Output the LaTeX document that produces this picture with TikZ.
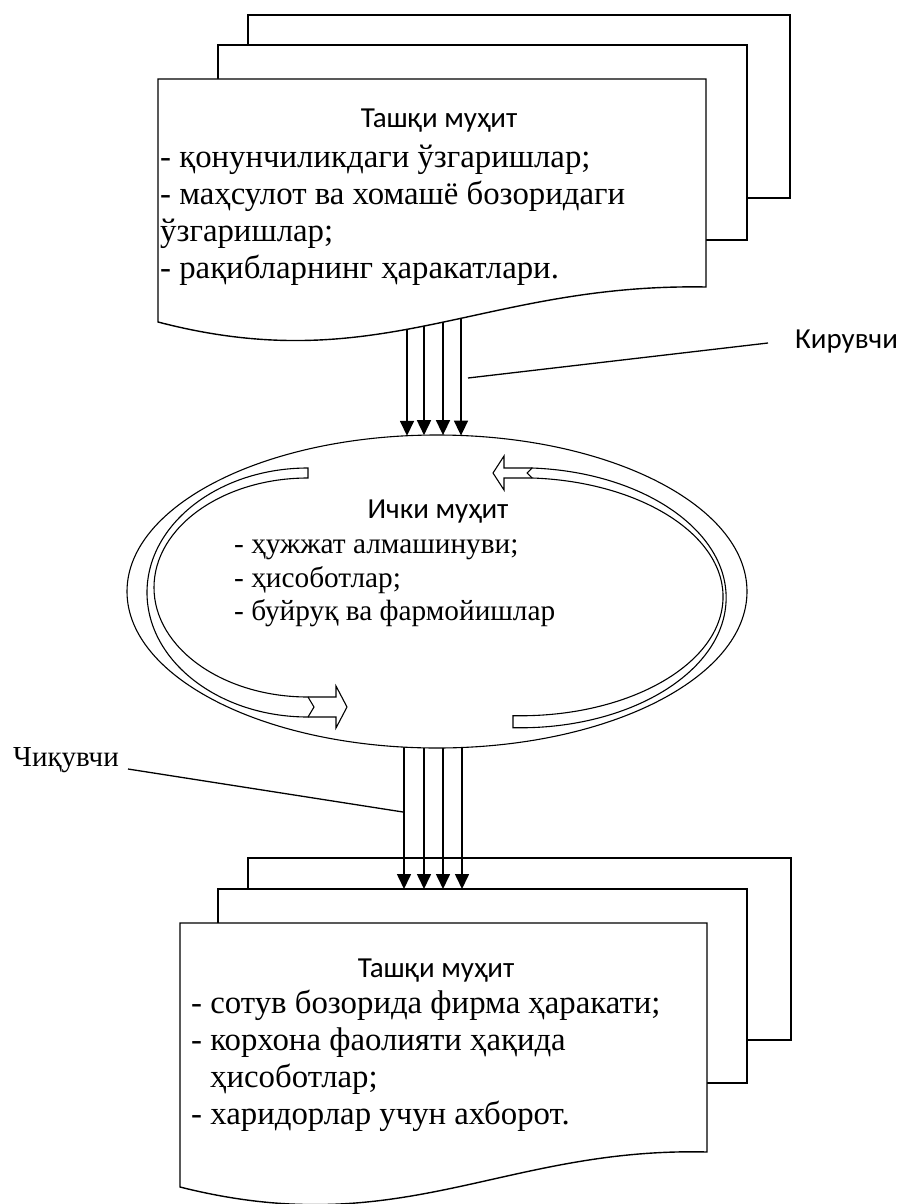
\documentclass[tikz,border=0pt]{standalone}
\usepackage{fontspec}
\setmainfont{Liberation Serif}
\newfontfamily\hdfont{Carlito}
\usetikzlibrary{arrows.meta,shapes.geometric}
\begin{document}
\begin{tikzpicture}[x=1pt,y=-1pt,
  doc/.style={draw=black,fill=white,line width=1.4pt},
  body/.style={inner sep=0pt,anchor=base west,font=\fontsize{32.8}{37}\selectfont},
  ebody/.style={inner sep=0pt,anchor=base west,font=\fontsize{29.3}{33}\selectfont},
  head/.style={inner sep=0pt,anchor=base,font=\hdfont\fontsize{29}{35}\selectfont},
  flow/.style={line width=1.6pt,-{Triangle[length=15pt,width=14pt]}},
  lead/.style={line width=1.3pt},
  band/.style={line width=1.1pt,line join=miter}]
\useasboundingbox (0,0) rectangle (903,1204);

% ---- top stacked documents (back and middle)
\draw[doc] (248,15) rectangle (790,198);
\draw[doc] (218,45) rectangle (747,240);

% ---- bottom stacked documents
\draw[doc] (248,858) rectangle (791,1040);
\draw[doc] (218,889) rectangle (747,1083);
\draw[doc] (180,923) -- (707,923) -- (707,1152) .. controls (502,1147) and (402,1243) .. (180,1187) -- cycle;

% ---- connector end points
\coordinate (a1) at (407,300); \coordinate (a2) at (424,300);
\coordinate (a3) at (443,300); \coordinate (a4) at (461,300);
\coordinate (b1) at (404,889); \coordinate (b2) at (424,889);
\coordinate (b3) at (443,889); \coordinate (b4) at (462,889);

\coordinate (a1e) at (407,435.8); \coordinate (a2e) at (424,435.2);
\coordinate (a3e) at (443,435.1); \coordinate (a4e) at (461,435.6);
\coordinate (b1s) at (404,740); \coordinate (b2s) at (424,740);
\coordinate (b3s) at (443,740); \coordinate (b4s) at (462,740);

% ---- arrows
\foreach \i in {1,...,4}{
  \draw[flow] (a\i) -- (a\i e);
  \draw[flow] (b\i s) -- (b\i);
}

% ---- inner environment ellipse
\node[draw,ellipse,line width=1.1pt,fill=white,minimum width=620pt,minimum height=313pt,inner sep=0pt,outer sep=0pt] (inner) at (437,591.5) {};

% ---- top front document
\draw[doc] (158,79) -- (706,79) -- (706,287) .. controls (480,283) and (380,380) .. (158,322) -- cycle;

% ---- circulating block arrows inside the ellipse
\draw[band] (314,707) -- (308,697) arc[start angle=270,end angle=90,x radius=154pt,y radius=109.5pt]
  -- (308,468) arc[start angle=90,end angle=270,x radius=161pt,y radius=124.5pt] -- cycle;
\draw[band] (308,697) -- (336,697) -- (336,686) -- (347,707) -- (336,728) -- (336,717) -- (308,717);

\draw[band] (532,468) arc[start angle=86.7,end angle=-92,x radius=206pt,y radius=130pt]
  -- ++(0,-12) arc[start angle=-92,end angle=86.6,x radius=203pt,y radius=119pt] -- ++(-5,-5) -- cycle;
\draw[band] (532,468) -- (504,468) -- (504,456) -- (493,473) -- (504,490) -- (504,478) -- (532,478);

% ---- texts: top document
\node[head] (th) at (439,128) {Ташқи муҳит};
\node[body] (t1) at (160,167) {- қонунчиликдаги ўзгаришлар;};
\node[body] (t2) at (160,204) {- маҳсулот ва хомашё бозоридаги};
\node[body] (t3) at (160,241) {ўзгаришлар;};
\node[body] (t4) at (160,278) {- рақибларнинг ҳаракатлари.};

% ---- texts: ellipse
\node[head] (eh) at (438,518) {Ички муҳит};
\node[ebody] (e1) at (234,553) {- ҳужжат алмашинуви;};
\node[ebody] (e2) at (234,587) {- ҳисоботлар;};
\node[ebody] (e3) at (234,620) {- буйруқ ва фармойишлар};

% ---- texts: bottom document
\node[head] (bh) at (436,977) {Ташқи муҳит};
\node[body] (s1) at (191,1013) {- сотув бозорида фирма ҳаракати;};
\node[body] (s2) at (191,1050) {- корхона фаолияти ҳақида};
\node[body] (s3) at (210,1087) {ҳисоботлар;};
\node[body] (s4) at (191,1124) {- харидорлар учун ахборот.};

% ---- labels with leader lines
\node[inner sep=0pt,anchor=base west,font=\hdfont\fontsize{29}{35}\selectfont] (kir) at (795,348) {Кирувчи};
\coordinate (kirL) at (768,343);
\coordinate (kirA) at (468,378);
\draw[lead] (kirL) -- (kirA);

\node[inner sep=0pt,anchor=base west,font=\fontsize{29}{35}\selectfont] (chiq) at (13,766) {Чиқувчи};
\coordinate (chiqL) at (128,769);
\coordinate (chiqA) at (403,812);
\draw[lead] (chiqL) -- (chiqA);
\end{tikzpicture}
\end{document}
